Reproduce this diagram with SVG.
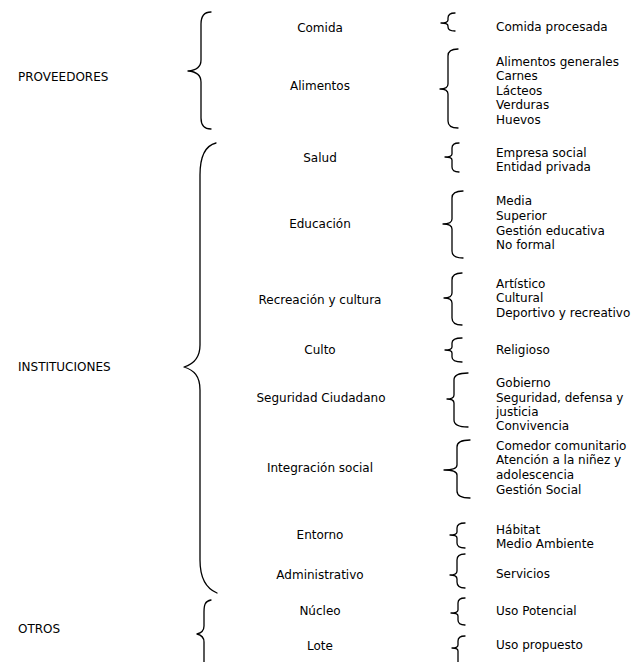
<svg xmlns="http://www.w3.org/2000/svg" width="634" height="662" viewBox="0 0 634 662">
<style>
text{font-family:"DejaVu Sans","Noto Sans",sans-serif;font-size:12px;fill:#000}
.c{text-anchor:middle}
.b{fill:none;stroke:#000;stroke-width:1.3;stroke-linecap:round;stroke-linejoin:round}
</style>
<rect width="634" height="662" fill="#fff"/>
<g id="connectors">
<path class="b" d="M211,12 Q201,12 201,24 L201,60 Q201,70 188,71 Q201,72 201,82 L201,118 Q201,129 211,129"/>
<path class="b" d="M216,143 C204,146 200,160 200,175 L200,345 C200,358 194,364 184,367 C194,370 200,376 200,390 L200,560 C200,575 205,588 217,593"/>
<path class="b" d="M211,600 C205,601 204,605 204,612 L204,626 C204,631 201,633 197,634 C201,635 204,637 204,642 L204,662"/>
<path class="b" d="M455,13 Q448,13 448,18 L448,20 Q448,23 441,23 Q448,23 448,26 L448,27 Q448,31 455,31"/>
<path class="b" d="M458,49 Q448,49 448,56 L448,84 Q448,89 440,89 Q448,89 448,94 L448,121 Q448,128 458,128"/>
<path class="b" d="M459,143 Q452,143 452,148 L452,154 Q452,157 445,157 Q452,157 452,160 L452,167 Q452,172 459,172"/>
<path class="b" d="M463,191 Q452,191 452,198 L452,219 Q452,224 443,224 Q452,224 452,229 L452,251 Q452,258 463,258"/>
<path class="b" d="M462,273 Q452,273 452,280 L452,293 Q452,298 444,298 Q452,298 452,303 L452,318 Q452,325 462,325"/>
<path class="b" d="M462,338 Q452,338 452,343 L452,347 Q452,350 445,350 Q452,350 452,353 L452,357 Q452,362 462,362"/>
<path class="b" d="M468,373 Q454,373 454,380 L454,395 Q454,399 447,399 Q454,399 454,403 L454,420 Q454,427 468,427"/>
<path class="b" d="M470,440 Q457,440 457,447 L457,465 Q457,470 444,470 Q457,470 457,475 L457,491 Q457,498 470,498"/>
<path class="b" d="M465,523 Q457,523 457,528 L457,532 Q457,535 450,535 Q457,535 457,538 L457,543 Q457,548 465,548"/>
<path class="b" d="M465,554 Q457,554 457,560 L457,571 Q457,575 450,575 Q457,575 457,579 L457,582 Q457,588 465,588"/>
<path class="b" d="M465,598 Q458,598 458,603 L458,610 Q458,613 451,613 Q458,613 458,616 L458,620 Q458,625 465,625"/>
<path class="b" d="M465,636 Q458,636 458,641 L458,645 Q458,648 452,648 Q458,648 458,651 L458,662"/>
</g>
<g id="proveedores"><text x="18" y="81">PROVEEDORES</text></g>
<g id="instituciones"><text x="18" y="371">INSTITUCIONES</text></g>
<g id="otros"><text x="18" y="633">OTROS</text></g>
<g id="comida"><text class="c" x="320" y="32">Comida</text></g>
<g id="alimentos"><text class="c" x="320" y="90">Alimentos</text></g>
<g id="salud"><text class="c" x="320" y="162">Salud</text></g>
<g id="educacion"><text class="c" x="320" y="228">Educación</text></g>
<g id="recreacion"><text class="c" x="320" y="304">Recreación y cultura</text></g>
<g id="culto"><text class="c" x="320" y="354">Culto</text></g>
<g id="seguridad"><text class="c" x="321" y="402">Seguridad Ciudadano</text></g>
<g id="integracion"><text class="c" x="320" y="472">Integración social</text></g>
<g id="entorno"><text class="c" x="320" y="539">Entorno</text></g>
<g id="administrativo"><text class="c" x="320" y="579">Administrativo</text></g>
<g id="nucleo"><text class="c" x="320" y="615">Núcleo</text></g>
<g id="lote"><text class="c" x="320" y="650">Lote</text></g>
<g id="r-comida"><text x="496" y="31">Comida procesada</text></g>
<g id="r-alimentos">
<text x="496" y="66">Alimentos generales</text>
<text x="496" y="80">Carnes</text>
<text x="496" y="95">Lácteos</text>
<text x="496" y="109">Verduras</text>
<text x="496" y="124">Huevos</text>
</g>
<g id="r-salud">
<text x="496" y="157">Empresa social</text>
<text x="496" y="171">Entidad privada</text>
</g>
<g id="r-educacion">
<text x="496" y="205">Media</text>
<text x="496" y="220">Superior</text>
<text x="496" y="235">Gestión educativa</text>
<text x="496" y="249">No formal</text>
</g>
<g id="r-recreacion">
<text x="496" y="288">Artístico</text>
<text x="496" y="302">Cultural</text>
<text x="496" y="317">Deportivo y recreativo</text>
</g>
<g id="r-culto"><text x="496" y="354">Religioso</text></g>
<g id="r-seguridad">
<text x="496" y="387">Gobierno</text>
<text x="496" y="402">Seguridad, defensa y</text>
<text x="496" y="416">justicia</text>
<text x="496" y="430">Convivencia</text>
</g>
<g id="r-integracion">
<text x="496" y="450">Comedor comunitario</text>
<text x="496" y="464">Atención a la niñez y</text>
<text x="496" y="479">adolescencia</text>
<text x="496" y="494">Gestión Social</text>
</g>
<g id="r-entorno">
<text x="496" y="534">Hábitat</text>
<text x="496" y="548">Medio Ambiente</text>
</g>
<g id="r-administrativo"><text x="496" y="578">Servicios</text></g>
<g id="r-nucleo"><text x="496" y="615">Uso Potencial</text></g>
<g id="r-lote"><text x="496" y="649">Uso propuesto</text></g>
</svg>
